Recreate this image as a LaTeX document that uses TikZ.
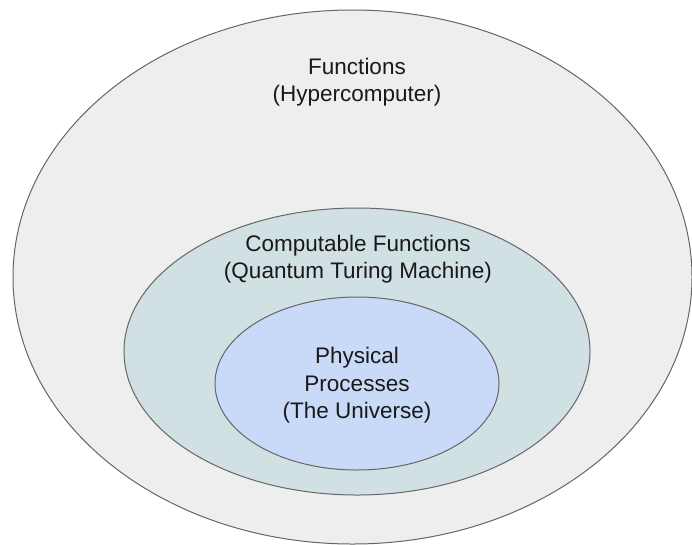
\documentclass[tikz,border=0pt]{standalone}
\usepackage{fontspec}
\setmainfont{Liberation Sans}
\usetikzlibrary{shapes.geometric}
\definecolor{outerfill}{HTML}{EEEEEE}
\definecolor{midfill}{HTML}{D0E0E3}
\definecolor{innerfill}{HTML}{C9DAF8}
\definecolor{edgegray}{HTML}{666666}
\tikzset{
  setshape/.style={ellipse, draw=edgegray, line width=1pt, inner sep=0pt},
  label/.style={align=center, font=\fontsize{22.5}{27.5}\selectfont, text=black!90, inner sep=0pt}
}
\begin{document}
\begin{tikzpicture}[x=1pt,y=-1pt]
\useasboundingbox (0,0) rectangle (692,544);
\fill[white] (0,0) rectangle (692,544);
\node[setshape, fill=outerfill, minimum width=679pt, minimum height=534pt] (outer) at (352.5,277) {};
\node[setshape, fill=midfill, minimum width=466pt, minimum height=287pt] (mid) at (357,351.5) {};
\node[setshape, fill=innerfill, minimum width=284pt, minimum height=173pt] (inner) at (357,383.5) {};
\node[label] (outertext) at (357,82) {Functions\\(Hypercomputer)};
\node[label] (midtext) at (358,259) {Computable Functions\\(Quantum Turing Machine)};
\node[label] (innertext) at (357,385.5) {Physical\\Processes\\(The Universe)};
\end{tikzpicture}
\end{document}
